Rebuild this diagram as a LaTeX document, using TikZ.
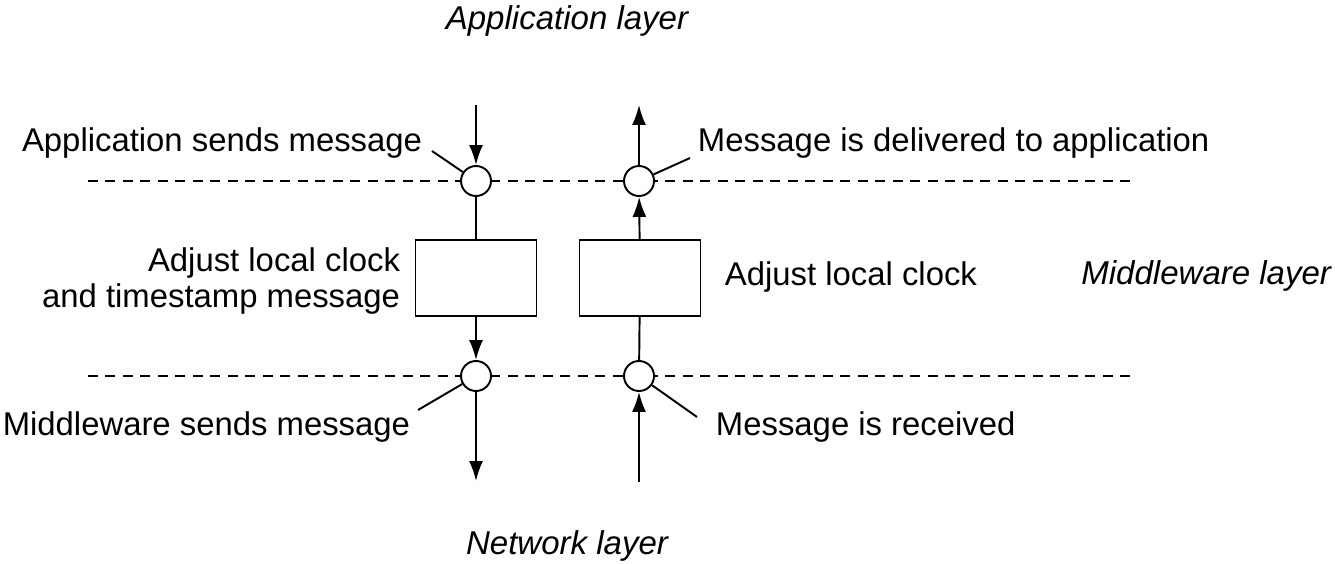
\documentclass[tikz,border=0pt]{standalone}
\usepackage{fontspec}
\setmainfont{Liberation Sans}
\usetikzlibrary{arrows.meta,positioning}

\tikzset{
    event/.style={circle,draw,fill=white,minimum size=0.6cm,inner sep=0pt},
    stage/.style={draw,fill=white,minimum width=2.42cm,minimum height=1.52cm},
    note/.style={inner sep=0pt},
    layer/.style={inner sep=0pt,font=\fontsize{18.8}{22}\selectfont\itshape},
    boundary/.style={dash pattern=on 0.2cm off 0.15cm}
}

\begin{document}
\begin{tikzpicture}[x=0.02cm,y=-0.02cm,>={Latex[length=0.4cm,width=0.28cm]},
                    line width=1.1pt,font=\fontsize{18.7}{21}\selectfont]
    \useasboundingbox (0,0) rectangle (1335,564);
    % layer names
    \node[layer] (app) at (567,21) {Application layer};
    \node[layer,anchor=east] (mw) at (1332,276) {Middleware layer};
    \node[layer] (net) at (567,546) {Network layer};
    % layer boundaries
    \coordinate (topL) at (88,181);
    \coordinate (topR) at (1135,181);
    \coordinate (botL) at (88,376);
    \coordinate (botR) at (1135,376);
    \draw[boundary] (topL) -- (topR);
    \draw[boundary] (botL) -- (botR);
    % events and clock adjustments
    \node[event] (appsend) at (476,181) {};
    \node[event] (deliver) at (639,181) {};
    \node[event] (mwsend) at (476,376) {};
    \node[event] (receive) at (639,376) {};
    \node[stage] (clockL) at (476,278) {};
    \node[stage] (clockR) at (640,278) {};
    \coordinate (sendtop) at (476,105);
    \coordinate (sendbot) at (476,481);
    \coordinate (recvtop) at (639,105);
    \coordinate (recvbot) at (639,482);
    % sending side
    \draw[->] (sendtop) -- (appsend);
    \draw (appsend) -- (clockL);
    \draw[->] (clockL) -- (mwsend);
    \draw[->] (mwsend) -- (sendbot);
    % receiving side
    \draw[->] (recvbot) -- (receive);
    \draw (receive) -- (clockR);
    \draw[->] (clockR) -- (deliver);
    \draw[->] (deliver) -- (recvtop);
    % labels
    \node[note,anchor=east] (lblappsend) at (423,143) {Application sends message};
    \node[note,anchor=west] (lbldeliver) at (697,143) {Message is delivered to application};
    \node[note,anchor=east,align=right] (lblclockL) at (401,281) {Adjust local clock\\and timestamp message};
    \node[note,anchor=west] (lblclockR) at (724,277) {Adjust local clock};
    \node[note,anchor=east] (lblmwsend) at (411,427) {Middleware sends message};
    \node[note,anchor=west] (lblreceive) at (715,427) {Message is received};
    \coordinate (ptappsend) at (432,151);
    \coordinate (ptdeliver) at (690,158);
    \coordinate (ptmwsend) at (418,410);
    \coordinate (ptreceive) at (697,417);
    \draw (ptappsend) -- (appsend);
    \draw (ptdeliver) -- (deliver);
    \draw (ptmwsend) -- (mwsend);
    \draw (ptreceive) -- (receive);
\end{tikzpicture}
\end{document}
